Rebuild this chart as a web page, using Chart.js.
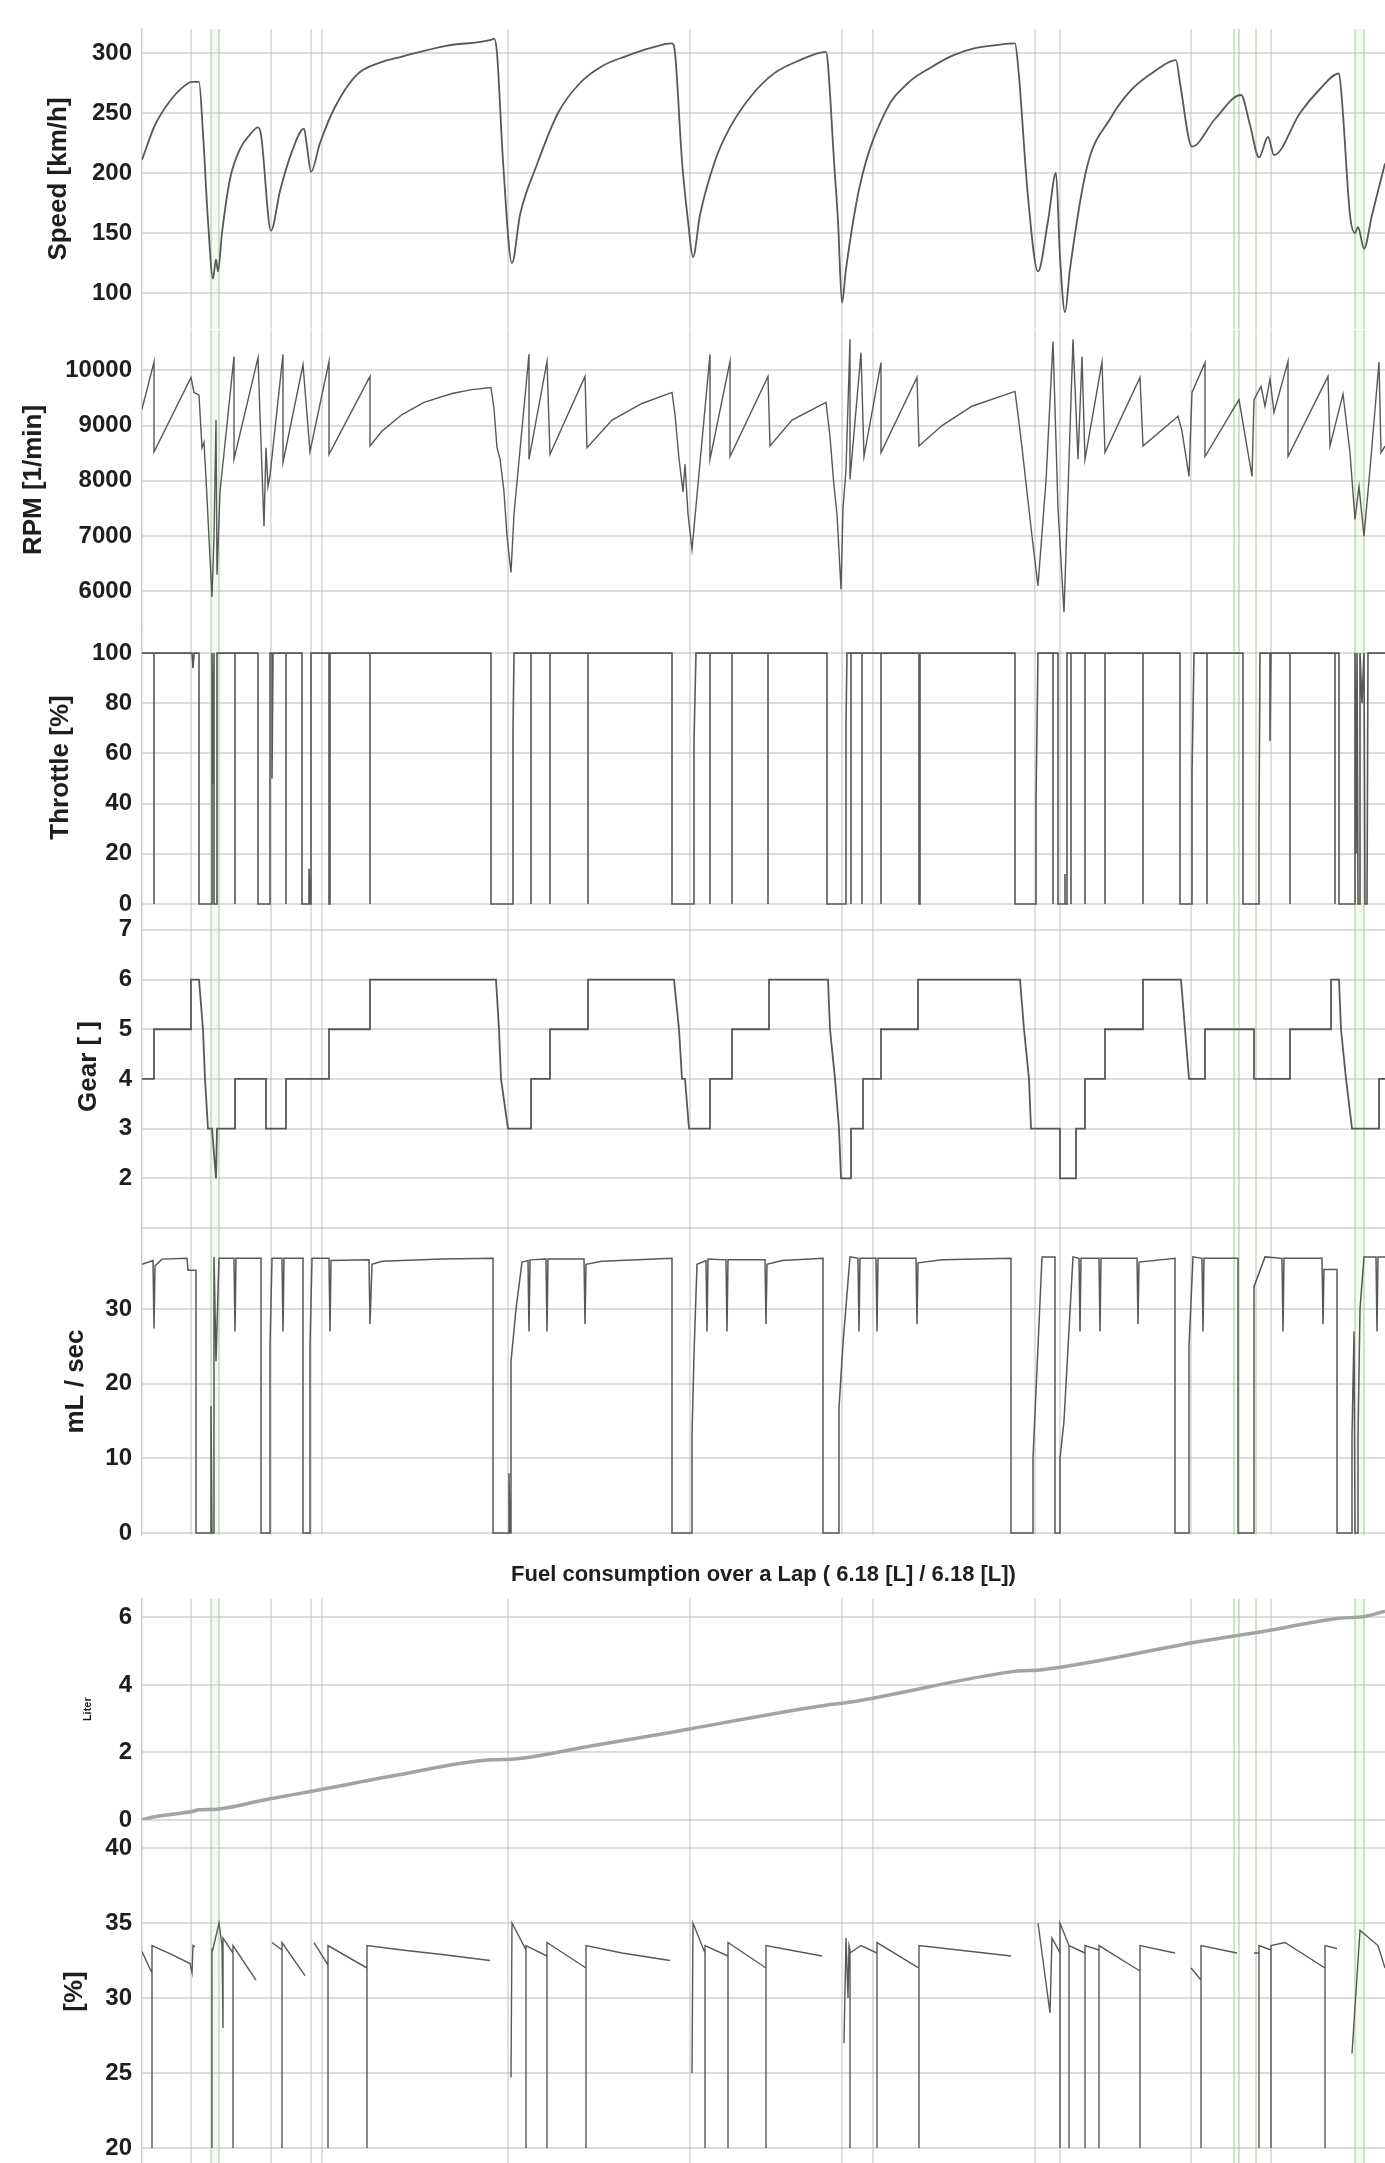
<!DOCTYPE html>
<html>
<head>
<meta charset="utf-8">
<script src="https://cdn.jsdelivr.net/npm/chart.js@4.4.1/dist/chart.umd.min.js"></script>
<style>
  body { margin: 0; background: #fff; }
  #wrap { position: relative; width: 1385px; height: 2163px; overflow: hidden; background: #fff; }
  #wrap canvas { position: absolute; left: 0; }
</style>
</head>
<body>
<div id="wrap"></div>
<script>
// lap log, x = sample index along the lap
const LAP_SAMPLES = 1243;
const MARKERS = [49, 69, 77, 129, 169, 180, 366, 548, 700, 731, 893, 918, 1049, 1092, 1097, 1114, 1129, 1213, 1222];
const GREEN_MARKERS = [69, 77, 1092, 1097, 1114, 1213, 1222];
const GREEN_BANDS = [[69, 77], [1213, 1222]];

const SPEED_TICKS = [100, 150, 200, 250, 300];
const RPM_TICKS = [6000, 7000, 8000, 9000, 10000];
const THROTTLE_TICKS = [0, 20, 40, 60, 80, 100];
const GEAR_TICKS = [1, 2, 3, 4, 5, 6, 7];
const FLOW_TICKS = [0, 10, 20, 30];
const LITER_TICKS = [0, 2, 4, 6];
const PCT_TICKS = [20, 25, 30, 35, 40];

const SPEED_X = [0, 13, 28, 43, 50, 57, 61, 66, 71, 74, 76, 80, 88, 98, 108, 116, 119, 129, 138, 150, 162, 165, 169, 178, 193, 215, 238, 260, 304, 349, 352, 355, 361, 370, 378, 394, 416, 438, 460, 483, 508, 530, 533, 540, 546, 551, 558, 573, 588, 610, 632, 658, 684, 686, 692, 696, 700, 704, 718, 744, 766, 789, 811, 833, 858, 873, 876, 886, 896, 906, 914, 918, 923, 928, 945, 968, 989, 1013, 1034, 1038, 1050, 1073, 1099, 1108, 1117, 1126, 1132, 1158, 1178, 1197, 1200, 1208, 1213, 1216, 1222, 1230, 1243];
const SPEED_V = [211, 240, 260, 273, 276, 276, 233, 160, 112, 128, 118, 150, 195, 220, 232, 238, 232, 152, 185, 218, 237, 222, 201, 225, 255, 282, 292, 297, 306, 311, 312, 300, 210, 125, 165, 205, 250, 275, 289, 297, 304, 308, 300, 210, 160, 130, 165, 210, 238, 265, 283, 294, 301, 290, 210, 160, 92, 120, 190, 252, 275, 288, 298, 304, 307, 308, 290, 180, 118, 160, 200, 130, 84, 120, 205, 245, 269, 285, 294, 275, 222, 245, 265, 240, 213, 230, 215, 250, 270, 283, 260, 165, 150, 155, 137, 165, 208];

const RPM_X = [0, 12, 12, 49, 52, 57, 60, 62, 65, 68, 70, 72, 74, 75, 78, 92, 92, 116, 118, 122, 124, 126, 128, 141, 141, 161, 168, 187, 187, 228, 228, 240, 260, 282, 310, 330, 349, 352, 355, 358, 362, 365, 369, 372, 387, 387, 405, 408, 443, 445, 470, 500, 530, 533, 537, 541, 543, 546, 550, 568, 568, 588, 588, 626, 628, 650, 684, 688, 692, 695, 699, 701, 704, 708, 708, 719, 722, 739, 739, 775, 777, 800, 830, 873, 876, 880, 885, 890, 896, 904, 911, 916, 922, 931, 936, 940, 943, 960, 963, 998, 1001, 1036, 1040, 1047, 1050, 1063, 1063, 1097, 1110, 1112, 1119, 1123, 1128, 1132, 1146, 1146, 1186, 1188, 1201, 1208, 1213, 1217, 1222, 1228, 1237, 1239, 1243];
const RPM_V = [9300, 10150, 8520, 9870, 9600, 9550, 8600, 8700, 7700, 6600, 5900, 7000, 9100, 6300, 7800, 10250, 8390, 10230, 9200, 7180, 8600, 7900, 8100, 10290, 8330, 10100, 8530, 10160, 8480, 9890, 8630, 8900, 9200, 9420, 9580, 9650, 9690, 9300, 8600, 8400, 7800, 7000, 6340, 7400, 10290, 8390, 10160, 8480, 9890, 8600, 9100, 9400, 9600, 9200, 8400, 7800, 8300, 7400, 6760, 10290, 8390, 10160, 8440, 9890, 8630, 9100, 9420, 8800, 7900, 7400, 6040, 7500, 8200, 10560, 8030, 10320, 8440, 10140, 8510, 9870, 8630, 9000, 9350, 9620, 9200, 8600, 7800, 7000, 6100, 8000, 10520, 7500, 5620, 10560, 8390, 10250, 8390, 10150, 8510, 9870, 8630, 9170, 8900, 8080, 9600, 10140, 8440, 9470, 8080, 9470, 9710, 9350, 9840, 9240, 10160, 8440, 9890, 8630, 9570, 8510, 7300, 7900, 7000, 8210, 10150, 8510, 8630];

const THROTTLE_X = [0, 12, 12, 12, 50, 51, 52, 57, 57, 70, 70, 71, 72, 72, 75, 75, 93, 93, 93, 116, 116, 128, 128, 130, 130, 131, 144, 144, 144, 160, 160, 167, 167, 168, 169, 169, 187, 187, 188, 188, 228, 228, 228, 349, 349, 371, 371, 372, 389, 389, 389, 408, 408, 408, 446, 446, 446, 530, 530, 552, 552, 554, 568, 568, 568, 590, 590, 590, 626, 626, 626, 685, 685, 704, 704, 705, 709, 709, 709, 720, 720, 720, 739, 739, 739, 777, 777, 778, 778, 873, 873, 894, 894, 896, 911, 911, 911, 916, 916, 923, 923, 923, 925, 925, 929, 929, 929, 943, 943, 943, 963, 963, 963, 1001, 1001, 1001, 1038, 1038, 1050, 1050, 1052, 1065, 1065, 1065, 1101, 1101, 1117, 1117, 1118, 1128, 1128, 1129, 1148, 1148, 1148, 1193, 1193, 1193, 1197, 1197, 1213, 1213, 1214, 1215, 1216, 1218, 1218, 1220, 1222, 1223, 1225, 1226, 1243];
const THROTTLE_V = [100, 100, 0, 100, 100, 94, 100, 100, 0, 0, 100, 48, 100, 0, 0, 100, 100, 0, 100, 100, 0, 0, 100, 100, 50, 100, 100, 0, 100, 100, 0, 0, 14, 0, 0, 100, 100, 0, 0, 100, 100, 0, 100, 100, 0, 0, 68, 100, 100, 0, 100, 100, 0, 100, 100, 0, 100, 100, 0, 0, 65, 100, 100, 0, 100, 100, 0, 100, 100, 0, 100, 100, 0, 0, 73, 100, 100, 0, 100, 100, 0, 100, 100, 0, 100, 100, 0, 0, 100, 100, 0, 0, 41, 100, 100, 0, 100, 100, 0, 0, 12, 0, 0, 100, 100, 0, 100, 100, 0, 100, 100, 0, 100, 100, 0, 100, 100, 0, 0, 52, 100, 100, 0, 100, 100, 0, 0, 32, 100, 100, 65, 100, 100, 0, 100, 100, 0, 100, 100, 0, 0, 100, 20, 100, 0, 0, 100, 80, 100, 0, 0, 100, 100];

const GEAR_X = [0, 12, 12, 49, 49, 57, 61, 63, 66, 70, 72, 74, 75, 93, 93, 124, 124, 144, 144, 187, 187, 228, 228, 354, 357, 359, 366, 389, 389, 408, 408, 446, 446, 532, 537, 540, 543, 547, 568, 568, 590, 590, 627, 627, 686, 688, 693, 697, 699, 709, 709, 721, 721, 739, 739, 776, 776, 878, 882, 887, 889, 918, 918, 934, 934, 943, 943, 963, 963, 1001, 1001, 1039, 1043, 1047, 1063, 1063, 1112, 1112, 1148, 1148, 1189, 1189, 1197, 1199, 1204, 1210, 1237, 1237, 1243];
const GEAR_V = [4, 4, 5, 5, 6, 6, 5, 4, 3, 3, 2.5, 2, 3, 3, 4, 4, 3, 3, 4, 4, 5, 5, 6, 6, 5, 4, 3, 3, 4, 4, 5, 5, 6, 6, 5, 4, 4, 3, 3, 4, 4, 5, 5, 6, 6, 5, 4, 3, 2, 2, 3, 3, 4, 4, 5, 5, 6, 6, 5, 4, 3, 3, 2, 2, 3, 3, 4, 4, 5, 5, 6, 6, 5, 4, 4, 5, 5, 4, 4, 5, 5, 6, 6, 5, 4, 3, 3, 4, 4];

const FLOW_X = [0, 11, 12, 13, 20, 45, 46, 54, 54, 69, 69, 70, 72, 72, 74, 77, 92, 93, 94, 119, 119, 128, 128, 130, 140, 141, 142, 161, 161, 168, 168, 170, 187, 188, 189, 227, 228, 230, 240, 300, 351, 351, 367, 367, 368, 369, 369, 374, 380, 386, 387, 388, 404, 405, 406, 442, 443, 444, 460, 530, 530, 550, 550, 552, 555, 564, 565, 566, 584, 585, 586, 623, 624, 625, 640, 681, 681, 697, 697, 701, 708, 716, 717, 718, 734, 735, 736, 774, 775, 776, 800, 869, 869, 891, 891, 900, 913, 913, 918, 918, 922, 931, 937, 938, 939, 957, 958, 959, 995, 996, 997, 1033, 1033, 1047, 1047, 1051, 1060, 1061, 1062, 1096, 1096, 1112, 1112, 1123, 1140, 1141, 1142, 1180, 1181, 1182, 1195, 1195, 1210, 1210, 1212, 1213, 1216, 1216, 1218, 1222, 1234, 1235, 1236, 1243];
const FLOW_V = [36.0, 36.5, 27.4, 35.8, 36.7, 36.8, 35.2, 35.2, 0, 0, 17, 0, 0, 37, 23, 36.8, 36.8, 27, 36.8, 36.8, 0, 0, 25, 36.8, 36.8, 27, 36.8, 36.8, 0, 0, 25, 36.8, 36.8, 27, 36.5, 36.6, 28, 36.0, 36.4, 36.7, 36.8, 0, 0, 8, 0, 0, 23, 30, 36.3, 36.5, 27, 36.6, 36.7, 27, 36.7, 36.7, 28, 36.0, 36.4, 36.8, 0, 0, 13, 24, 36, 36.5, 27, 36.7, 36.6, 27, 36.6, 36.6, 28, 36.0, 36.5, 36.8, 0, 0, 16.8, 25.4, 37, 36.8, 27, 36.8, 36.8, 27, 36.8, 36.8, 28, 36.2, 36.6, 36.8, 0, 0, 10, 37, 37, 0, 0, 10, 15, 37, 36.8, 27, 36.8, 36.8, 27, 36.8, 36.8, 28, 36.3, 36.8, 0, 0, 25, 37, 36.8, 27, 36.8, 36.8, 0, 0, 33, 37, 36.8, 27, 36.8, 36.8, 28, 35.3, 35.3, 0, 0, 13, 27, 0, 0, 13, 30, 37, 37, 27, 37, 37];

const LITER_X = [0, 10, 50, 57, 75, 123, 170, 250, 349, 370, 450, 530, 552, 684, 704, 873, 900, 1033, 1050, 1121, 1197, 1213, 1222, 1243];
const LITER_V = [0.0, 0.08, 0.25, 0.3, 0.32, 0.6, 0.85, 1.3, 1.78, 1.8, 2.2, 2.6, 2.72, 3.4, 3.47, 4.4, 4.45, 5.15, 5.25, 5.58, 5.97, 6.0, 6.02, 6.18];

// null = no fuel flow, ratio undefined
const PCT_X = [0, 9, 10, 10, 10, 30, 48, 50, 51, 53, 54,
  70, 70, 70, 77, 80, 81, 81, 91, 91, 91, 114, 115,
  130, 140, 140, 140, 163, 164,
  172, 186, 186, 186, 225, 225, 225, 260, 300, 348, 349,
  369, 370, 384, 384, 384, 390, 405, 405, 405, 444, 444, 444, 480, 528, 529,
  550, 551, 563, 563, 563, 586, 586, 586, 624, 624, 624, 680, 681,
  702, 704, 706, 707, 708, 708, 708, 719, 735, 735, 735, 777, 777, 777, 869, 870,
  896, 908, 910, 918, 918, 918, 927, 927, 927, 943, 943, 943, 957, 957, 957, 998, 998, 998, 1033, 1034,
  1049, 1059, 1059, 1059, 1095, 1096,
  1112, 1117, 1117, 1117, 1129, 1129, 1129, 1143, 1183, 1183, 1183, 1195, 1196,
  1210, 1218, 1227, 1236, 1243];
const PCT_V = [33.1, 31.8, 31.7, 20, 33.5, 32.9, 32.3, 31.7, 33.5, 33.4, null,
  33.3, 20, 33, 35, 33.5, 28, 34, 33, 20, 33.5, 31.2, null,
  33.7, 33.2, 20, 33.7, 31.5, null,
  33.7, 32.2, 20, 33.5, 32, 20, 33.5, 33.2, 32.9, 32.5, null,
  24.7, 35, 33.2, 20, 33.5, 33.3, 32.8, 20, 33.7, 32.0, 20, 33.5, 33.0, 32.5, null,
  25, 35, 33, 20, 33.5, 32.8, 20, 33.7, 32, 20, 33.5, 32.8, null,
  27, 34, 30, 33.5, 33.2, 20, 33, 33.5, 33, 20, 33.7, 32, 20, 33.5, 32.8, null,
  35, 29, 34, 33, 20, 35, 33.5, 20, 33.5, 33, 20, 33.5, 33.2, 20, 33.5, 31.8, 20, 33.5, 33, null,
  32, 31.2, 20, 33.5, 33, null,
  33, 33, 20, 33.5, 33.2, 20, 33.5, 33.7, 32, 20, 33.5, 33.3, null,
  26.3, 34.5, 34, 33.5, 32];

const FUEL_TITLE = 'Fuel consumption over a Lap ( 6.18 [L] / 6.18 [L])';

Chart.defaults.font.family = "'Liberation Sans', Arial, sans-serif";

const lapMarkers = {
  id: 'lapMarkers',
  beforeDatasetsDraw(chart) {
    const { ctx, chartArea: a, scales: { x } } = chart;
    ctx.save();
    ctx.beginPath();
    ctx.rect(a.left, a.top, a.right - a.left, a.bottom - a.top);
    ctx.clip();
    GREEN_BANDS.forEach(([s, e]) => {
      const x0 = x.getPixelForValue(s), x1 = x.getPixelForValue(e);
      ctx.fillStyle = 'rgba(214,236,205,0.28)';
      ctx.fillRect(x0, a.top, x1 - x0, a.bottom - a.top);
    });
    MARKERS.forEach(m => {
      const px = x.getPixelForValue(m);
      ctx.strokeStyle = GREEN_MARKERS.includes(m) ? 'rgba(165,205,155,0.65)' : 'rgba(180,190,175,0.55)';
      ctx.lineWidth = 1.6;
      ctx.beginPath();
      ctx.moveTo(px, a.top);
      ctx.lineTo(px, a.bottom);
      ctx.stroke();
    });
    ctx.restore();
  }
};

const PAD = 30;
const panels = [
  { title: 'Speed [km/h]', titleX: 59, top: 29, bottom: 329, min: 70, max: 320, ticks: SPEED_TICKS, xs: SPEED_X, ys: SPEED_V, smooth: true, width: 1.8 },
  { title: 'RPM [1/min]', titleX: 34, top: 330, bottom: 630, min: 5300, max: 10730, ticks: RPM_TICKS, xs: RPM_X, ys: RPM_V, width: 1.4 },
  { title: 'Throttle [%]', titleX: 61, top: 630, bottom: 905, min: -0.4, max: 109.2, ticks: THROTTLE_TICKS, xs: THROTTLE_X, ys: THROTTLE_V, width: 1.6 },
  { title: 'Gear [ ]', titleX: 89, top: 905, bottom: 1228, min: 1, max: 7.5, ticks: GEAR_TICKS, hide: [1], xs: GEAR_X, ys: GEAR_V, width: 1.8 },
  { title: 'mL / sec', titleX: 76, top: 1228, bottom: 1535, min: -0.27, max: 40.87, ticks: FLOW_TICKS, xs: FLOW_X, ys: FLOW_V, width: 1.5 },
  { title: 'Liter', titleX: 88, titleSize: 11, top: 1598, bottom: 1820, header: 53, min: 0, max: 6.56, ticks: LITER_TICKS, xs: LITER_X, ys: LITER_V, smooth: true, width: 3.5, color: '#a3a3a3' },
  { title: '[%]', titleX: 75, top: 1820, bottom: 2163, min: 19.0, max: 41.87, ticks: PCT_TICKS, xs: PCT_X, ys: PCT_V, width: 1.4 }
];

const wrap = document.getElementById('wrap');
panels.forEach(p => {
  const canvas = document.createElement('canvas');
  const top = p.header ? p.top - p.header : p.top - PAD;
  const h = p.bottom + PAD - top;
  canvas.width = 1385;
  canvas.height = h;
  canvas.style.top = top + 'px';
  canvas.style.width = '1385px';
  canvas.style.height = h + 'px';
  wrap.appendChild(canvas);
  const tSize = p.titleSize || 26;

  new Chart(canvas, {
    type: 'line',
    data: {
      datasets: [{
        data: p.xs.map((x, i) => ({ x: x, y: p.ys[i] })),
        borderColor: p.color || '#585858',
        borderWidth: p.width,
        pointRadius: 0,
        fill: false,
        tension: 0,
        cubicInterpolationMode: p.smooth ? 'monotone' : 'default',
        spanGaps: false
      }]
    },
    options: {
      responsive: false,
      animation: false,
      devicePixelRatio: 1,
      layout: { padding: { top: p.header ? 0 : PAD, bottom: PAD, left: 0, right: 0 } },
      plugins: {
        legend: { display: false },
        tooltip: { enabled: false },
        title: p.header ? {
          display: true,
          text: FUEL_TITLE,
          fullSize: false,
          color: '#1e1e1e',
          font: { size: 22, weight: 'bold' },
          padding: { top: 17, bottom: 10 }
        } : { display: false }
      },
      scales: {
        x: { type: 'linear', display: false, min: 0, max: LAP_SAMPLES },
        y: {
          min: p.min,
          max: p.max,
          afterFit: s => { s.width = 142; },
          afterBuildTicks: s => { s.ticks = p.ticks.map(v => ({ value: v })); },
          ticks: {
            autoSkip: false,
            padding: 10,
            color: '#1e1e1e',
            font: { size: 24, weight: 'bold' },
            callback: v => (p.hide && p.hide.includes(v)) ? '' : String(v)
          },
          grid: { color: '#dcdcdc', lineWidth: 2, drawTicks: false },
          border: { display: true, color: '#cbcbcb', width: 1.5 },
          title: {
            display: true,
            text: p.title,
            color: '#1e1e1e',
            font: { size: tSize, weight: 'bold' },
            padding: { top: p.titleX - tSize * 0.6, bottom: 0 }
          }
        }
      }
    },
    plugins: [lapMarkers]
  });
});
</script>
</body>
</html>
